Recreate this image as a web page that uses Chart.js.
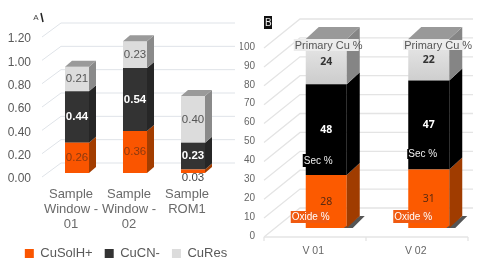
<!DOCTYPE html>
<html><head><meta charset="utf-8">
<style>
html,body{margin:0;padding:0;background:#fff;overflow:hidden}
canvas{position:absolute;top:0;filter:blur(0.45px)}
#a{left:0}#b{left:240px}
</style>
<script src="https://cdn.jsdelivr.net/npm/chart.js@4"></script>
</head><body>
<canvas id="a" width="240" height="268"></canvas>
<canvas id="b" width="240" height="268"></canvas>
<script>
const leftCategories=[["Sample","Window -","01"],["Sample","Window -","02"],["Sample","ROM1"]];
const leftSeriesNames=["CuSolH+","CuCN-","CuRes"];
const cuSolH=[0.26,0.36,0.03];
const cuCN=[0.44,0.54,0.23];
const cuRes=[0.21,0.23,0.40];
const rightCategories=["V 01","V 02"];
const rightSeriesNames=["Oxide %","Sec %","Primary Cu %"];
const oxide=[28,31];
const secondary=[48,47];
const primary=[24,22];
const FONT='"Liberation Sans"';

function wall3d(o){return {id:'wall',beforeDatasetsDraw(c){
  const {ctx,scales:{y},chartArea:a}=c;ctx.save();ctx.strokeStyle=o.color;ctx.lineWidth=o.lw;
  y.ticks.forEach(t=>{const p=y.getPixelForValue(t.value);
    ctx.beginPath();ctx.moveTo(a.left+o.fx,p+o.fy);ctx.lineTo(a.left+o.bx,p+o.by);ctx.lineTo(a.left+o.bxEnd,p+o.by);ctx.stroke();});
  if(o.axis){const p=y.getPixelForValue(0)+o.fy;ctx.beginPath();ctx.moveTo(a.left+o.fx,p);ctx.lineTo(a.left+o.fx+o.axis,p);ctx.stroke();
    [0,.5,1].forEach(f=>{const x=a.left+o.fx+o.axis*f;ctx.beginPath();ctx.moveTo(x,p);ctx.lineTo(x,p+4);ctx.stroke();});}
  ctx.restore();}}}

function bars3d(o){return {id:'bars3d',afterDatasetsDraw(c){
  const ctx=c.ctx;ctx.save();
  const n=c.data.datasets.length;
  if(o.shadow){c.getDatasetMeta(0).data.forEach(e=>{const r=e.x+e.width/2,b=e.base;
    ctx.fillStyle=o.shadow;ctx.beginPath();ctx.moveTo(r-3,b);ctx.lineTo(r+o.dx,b+o.dy);ctx.lineTo(r+o.dx+5,b+o.dy);ctx.lineTo(r+6,b);ctx.closePath();ctx.fill();});}
  for(let i=0;i<n;i++){c.getDatasetMeta(i).data.forEach(e=>{
    const r=e.x+e.width/2,l=e.x-e.width/2;
    ctx.fillStyle=o.side[i];ctx.beginPath();ctx.moveTo(r,e.y);ctx.lineTo(r+o.dx,e.y+o.dy);ctx.lineTo(r+o.dx,e.base+o.dy);ctx.lineTo(r,e.base);ctx.closePath();ctx.fill();
    if(i===n-1){ctx.fillStyle=o.top;ctx.beginPath();ctx.moveTo(l,e.y);ctx.lineTo(l+o.dx,e.y+o.dy);ctx.lineTo(r+o.dx,e.y+o.dy);ctx.lineTo(r,e.y);ctx.closePath();ctx.fill();}
  });}
  ctx.restore();}}}

function valueLabels(o){return {id:'vals',afterDatasetsDraw(c){
  const ctx=c.ctx;ctx.save();ctx.textAlign='center';ctx.textBaseline='middle';
  c.data.datasets.forEach((d,i)=>{c.getDatasetMeta(i).data.forEach((e,j)=>{
    const v=d.data[j];const s=o.fmt(v);
    ctx.font=o.font(i,j);ctx.fillStyle=o.color(i,j);
    let y=(e.y+e.base)/2;
    if(o.below&&o.below(i,j))y=e.base+5;
    ctx.fillText(s,e.x,y);
  });});
  ctx.restore();}}}

const panelA={id:'panelA',
  afterLayout(c){c.legend.left+=6;c.legend.right+=6;},
  afterDraw(c){const ctx=c.ctx;ctx.save();
  ctx.fillStyle='#444';ctx.font='8px '+FONT;ctx.textAlign='center';ctx.textBaseline='middle';ctx.fillText('A',36,18);
  ctx.strokeStyle='#222';ctx.lineWidth=1.5;ctx.beginPath();ctx.moveTo(41,13);ctx.lineTo(43,22);ctx.stroke();ctx.restore();}};

function tag(ctx,text,x,y,w,h,bg,fg,font){ctx.fillStyle=bg;ctx.fillRect(x,y,w,h);ctx.fillStyle=fg;ctx.font=font;ctx.textAlign='left';ctx.textBaseline='middle';ctx.fillText(text,x+1,y+h/2+.5);}

const panelB={id:'panelB',afterDraw(c){const ctx=c.ctx;ctx.save();
  tag(ctx,'B',24,16,8,13,'#111','#eee','10px '+FONT);
  const m=i=>c.getDatasetMeta(i).data;
  const ox=m(0),se=m(1),pr=m(2);
  pr.forEach((e,j)=>{const l=e.x-e.width/2;
    tag(ctx,rightSeriesNames[2],l+(j?-5:-12),e.y+(j?1:0),j?62:65,j?10:12,'#ececec','#555','11px '+FONT);});
  se.forEach((e,j)=>{const l=e.x-e.width/2;
    tag(ctx,rightSeriesNames[1],l+(j?-1:-3),(j?149:154),j?33:31,j?10:13,'#000','#eee','10px '+FONT);});
  ox.forEach((e,j)=>{const l=e.x-e.width/2;
    tag(ctx,rightSeriesNames[0],l-15,(j?210:211),j?39:38,j?13:12,'#f05a10','#fff','10px '+FONT);});
  ctx.restore();}};

const gradLight=(c,a,b)=>{const g=c.chart.ctx.createLinearGradient(0,30,0,90);g.addColorStop(0,a);g.addColorStop(1,b);return g;};

new Chart(document.getElementById('a'),{
  type:'bar',
  data:{labels:leftCategories,datasets:[
    {label:leftSeriesNames[0],data:cuSolH,backgroundColor:'#fa5500'},
    {label:leftSeriesNames[1],data:cuCN,backgroundColor:'#333333'},
    {label:leftSeriesNames[2],data:cuRes,backgroundColor:'#dcdcdc'}]},
  options:{responsive:false,animation:false,
    layout:{padding:{top:33,right:0,left:0,bottom:-2}},
    datasets:{bar:{categoryPercentage:1,barPercentage:0.414}},
    plugins:{tooltip:{enabled:false},
      legend:{position:'bottom',labels:{boxWidth:9,boxHeight:9,padding:12,color:'#595959',font:{family:FONT,size:13}}}},
    scales:{
      x:{stacked:true,grid:{display:false,drawTicks:false},border:{display:false},
        afterFit(s){s.height=62;},
        ticks:{autoSkip:false,maxRotation:0,minRotation:0,labelOffset:-6,padding:14,color:'#6a6a6a',font:{family:FONT,size:13,lineHeight:1.15}}},
      y:{stacked:true,min:0,max:1.2,grid:{display:false,drawTicks:false},border:{display:false},
        afterFit(s){s.width=48;},
        ticks:{stepSize:0.2,padding:17,labelOffset:6,color:'#595959',font:{family:FONT,size:12},callback:v=>Number(v).toFixed(2)}},
      spacer:{position:'right',grid:{display:false,drawTicks:false},border:{display:false},ticks:{display:false},
        afterFit(s){s.width=18;}}
    }},
  plugins:[
    wall3d({color:'#dfe3e8',lw:1,fx:-6,fy:4,bx:13,by:-10,bxEnd:187}),
    bars3d({dx:7,dy:-6,side:['#a33d00','#262626','#8a8a8a'],top:'#9a9a9a'}),
    valueLabels({fmt:v=>v.toFixed(2),
      font:(i,j)=>(i===1?'bold ':'')+'11.5px '+FONT,
      color:(i,j)=>i===0?(j===2?'#444':'#8a3a10'):i===1?'#fff':'#555',
      below:(i,j)=>i===0&&j===2}),
    panelA]
});

new Chart(document.getElementById('b'),{
  type:'bar',
  data:{labels:rightCategories,datasets:[
    {label:rightSeriesNames[0],data:oxide,backgroundColor:'#fc5a00'},
    {label:rightSeriesNames[1],data:secondary,backgroundColor:'#000000'},
    {label:rightSeriesNames[2],data:primary,backgroundColor:c=>gradLight(c,'#efefef','#c8c8c8')}]},
  options:{responsive:false,animation:false,
    layout:{padding:{top:39,right:0,left:0,bottom:0}},
    datasets:{bar:{categoryPercentage:1,barPercentage:0.4}},
    plugins:{tooltip:{enabled:false},legend:{display:false}},
    scales:{
      x:{stacked:true,grid:{display:false,drawTicks:false},border:{display:false},
        afterFit(s){s.height=40;},
        ticks:{autoSkip:false,maxRotation:0,minRotation:0,labelOffset:-13,padding:17,color:'#666',font:{family:FONT,size:10.5}}},
      y:{stacked:true,min:0,max:100,grid:{display:false,drawTicks:false},border:{display:false},
        afterFit(s){s.width=35;},
        ticks:{stepSize:10,padding:20,labelOffset:8,color:'#666',font:{family:FONT,size:10}}}
    }},
  plugins:[
    wall3d({color:'#e4e4e4',lw:1.3,fx:-11,fy:9,bx:25,by:-20,bxEnd:198,axis:204}),
    bars3d({dx:13,dy:-12,side:['#a03c00','#000','#858585'],top:'#999',shadow:'#555'}),
    valueLabels({fmt:v=>String(v),
      font:(i)=>(i===0?'':'bold ')+'10.5px "Noto Sans"',
      color:(i)=>i===1?'#fff':i===0?'#5a2a10':'#333'}),
    panelB]
});
</script>
</body></html>
